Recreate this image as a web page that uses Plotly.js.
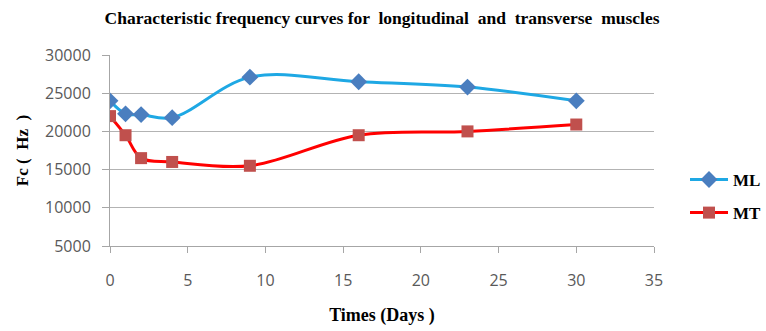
<!DOCTYPE html>
<html>
<head>
<meta charset="utf-8">
<script src="https://cdn.plot.ly/plotly-3.0.1.min.js"></script>
<style>html,body{margin:0;padding:0;background:#fff;}#chart{width:766px;height:331px;}</style>
</head>
<body>
<div id="chart"></div>
<script>
const days = [0, 1, 2, 4, 9, 16, 23, 30];
const mlValues = [24000, 22300, 22200, 21800, 27100, 26500, 25800, 24000];
const mtValues = [22000, 19500, 16500, 16000, 15500, 19500, 20000, 20900];
const seriesNames = ['ML', 'MT'];
const xTicks = [0, 5, 10, 15, 20, 25, 30, 35];
const yTicks = [5000, 10000, 15000, 20000, 25000, 30000];

const serif = '"Liberation Serif", "DejaVu Serif", serif';
const sans = '"Open Sans", "Liberation Sans", sans-serif';

const traces = [
  {
    x: days, y: mlValues, name: seriesNames[0], legendgroup: 'a',
    type: 'scatter', mode: 'lines+markers',
    line: {color: '#1ea8e4', width: 3, shape: 'spline', smoothing: 1},
    marker: {symbol: 'diamond', size: 13, color: '#4a7ebf'}
  },
  {
    x: days, y: mtValues, name: seriesNames[1], legendgroup: 'b',
    type: 'scatter', mode: 'lines+markers',
    line: {color: '#ff0000', width: 3, shape: 'spline', smoothing: 1},
    marker: {symbol: 'square', size: 12, color: '#c0504d'}
  }
];

const layout = {
  width: 766, height: 331,
  margin: {l: 110, r: 112, t: 55, b: 85, autoexpand: false},
  paper_bgcolor: '#ffffff', plot_bgcolor: '#ffffff',
  title: {
    text: 'Characteristic frequency curves for  longitudinal  and  transverse  muscles',
    font: {family: serif, size: 17.5, weight: 'bold', color: '#000'},
    x: 0.5, xref: 'paper', y: 0.945, yanchor: 'middle'
  },
  xaxis: {
    range: [0, 35], tickvals: xTicks, ticktext: xTicks.map(String),
    showgrid: false, zeroline: false, automargin: false,
    showline: true, linecolor: '#a6a6a6', linewidth: 1,
    ticks: 'outside', ticklen: 6, tickcolor: '#a6a6a6',
    ticklabelstandoff: 14,
    tickfont: {family: sans, size: 16, color: '#595959'},
    title: {text: 'Times (Days )', font: {family: serif, size: 18, weight: 'bold', color: '#000'}, standoff: 18}
  },
  yaxis: {
    range: [5000, 30000], tickvals: yTicks, ticktext: yTicks.map(String),
    showgrid: true, gridcolor: '#b3b3b3', gridwidth: 1, zeroline: false, automargin: false,
    showline: true, linecolor: '#a6a6a6', linewidth: 1,
    ticks: 'outside', ticklen: 7, tickcolor: '#a6a6a6',
    ticklabelstandoff: 8,
    tickfont: {family: sans, size: 16, color: '#595959'},
    title: {text: 'Fc (  Hz  )', font: {family: serif, size: 17, weight: 'bold', color: '#000'}, standoff: 12}
  },
  showlegend: true,
  legend: {
    x: 1.057, xanchor: 'left', y: 0.44, yanchor: 'top',
    itemwidth: 38,
    font: {family: serif, size: 17, weight: 'bold', color: '#000'},
    tracegroupgap: 8, bgcolor: 'rgba(0,0,0,0)'
  }
};

Plotly.newPlot('chart', traces, layout, {displayModeBar: false, staticPlot: true});
</script>
</body>
</html>
